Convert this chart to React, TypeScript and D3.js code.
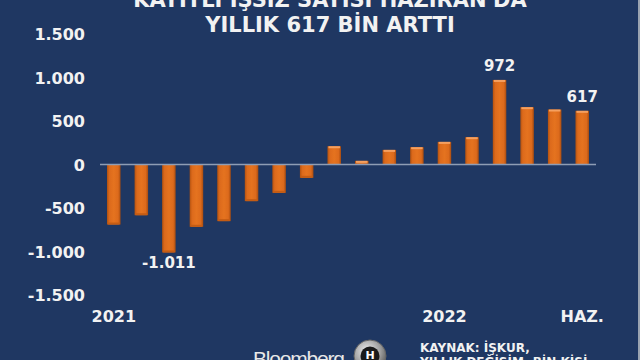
import React from "react";
import * as d3 from "d3";

const categories = [
  "Oca 21", "Şub 21", "Mar 21", "Nis 21", "May 21", "Haz 21",
  "Tem 21", "Ağu 21", "Eyl 21", "Eki 21", "Kas 21", "Ara 21",
  "Oca 22", "Şub 22", "Mar 22", "Nis 22", "May 22", "Haz 22",
];
const values = [-690, -583, -1011, -716, -651, -421, -326, -153, 210, 42, 168, 199, 260, 314, 972, 659, 632, 617];
const yTicks = [-1500, -1000, -500, 0, 500, 1000, 1500];
const xTickLabels: [number, string][] = [[0, "2021"], [12, "2022"], [17, "HAZ."]];
const valueLabels: [number, string][] = [[2, "-1.011"], [14, "972"], [17, "617"]];
const titleLines = ["KAYITLI İŞSİZ SAYISI HAZİRAN'DA", "YILLIK 617 BİN ARTTI"];
const sourceLines = ["KAYNAK: İŞKUR,", "YILLIK DEĞİŞİM, BİN KİŞİ"];

const W = 640, H = 360;
const font = "'DejaVu Sans', Verdana, sans-serif";
const fmt = (v: number) => d3.format(",")(v).replace(/,/g, ".").replace("−", "-");

export default function App() {
  const x = d3.scaleBand<number>().domain(d3.range(categories.length)).range([100, 596]).paddingInner(0.51).paddingOuter(0.255);
  const y = d3.scaleLinear().domain([-1500, 1500]).range([295, 34]);
  const bw = x.bandwidth();
  return (
    <div style={{ position: "absolute", left: 0, top: 0 }}>
      <svg width={W} height={H} style={{ display: "block" }}>
        <defs>
          <linearGradient id="barG" x1="0" x2="1" y1="0" y2="0">
            <stop offset="0" stopColor="#b4520f" />
            <stop offset="0.18" stopColor="#dc6a1c" />
            <stop offset="0.5" stopColor="#e5731f" />
            <stop offset="0.82" stopColor="#dc6a1c" />
            <stop offset="1" stopColor="#a84c10" />
          </linearGradient>
          <radialGradient id="logoG" cx="0.4" cy="0.35" r="0.7">
            <stop offset="0" stopColor="#f0f0f0" />
            <stop offset="0.6" stopColor="#a0a0a0" />
            <stop offset="1" stopColor="#555" />
          </radialGradient>
        </defs>
        <rect x={0} y={0} width={W} height={H} fill="#1f3762" />
        <rect x={638} y={0} width={2} height={H} fill="#9aa3b0" />
        {/* title */}
        {titleLines.map((t, i) => (
          <text key={t} x={330} y={7 + i * 25} textAnchor="middle" fill="#f2f2f2" fontFamily={font} fontWeight="bold" fontSize={21}>{t}</text>
        ))}
        {/* y axis labels */}
        {yTicks.map((t) => (
          <text key={t} x={85} y={y(t) + 6} textAnchor="end" fill="#f2f2f2" fontFamily={font} fontWeight="bold" fontSize={16}>{fmt(t)}</text>
        ))}
        {/* bars */}
        {values.map((v, i) => {
          const x0 = x(i)!;
          const top = y(Math.max(0, v));
          const h = Math.abs(y(v) - y(0));
          return (
            <g key={categories[i]}>
              <rect x={x0} y={top} width={bw} height={h} fill="url(#barG)" />
              {v > 0 ? (
                <rect x={x0 + 1} y={top} width={bw - 2} height={Math.min(2, h)} fill="#f5a060" />
              ) : (
                <rect x={x0 + 1} y={top + h - 2} width={bw - 2} height={2} fill="#c45c14" />
              )}
            </g>
          );
        })}
        {/* zero line */}
        <line x1={100} x2={596} y1={y(0)} y2={y(0)} stroke="#8e9db5" strokeWidth={1.5} />
        {/* value labels */}
        {valueLabels.map(([i, t]) => {
          const v = values[i];
          const cx = x(i)! + bw / 2;
          const ly = v < 0 ? y(v) + 16 : y(v) - 9;
          return (
            <text key={t} x={cx} y={ly} textAnchor="middle" fill="#f2f2f2" fontFamily={font} fontWeight="bold" fontSize={15}>{t}</text>
          );
        })}
        {/* x labels */}
        {xTickLabels.map(([i, t]) => (
          <text key={t} x={x(i)! + bw / 2} y={322} textAnchor="middle" fill="#f2f2f2" fontFamily={font} fontWeight="bold" fontSize={16}>{t}</text>
        ))}
        {/* bloomberg logo */}
        <text x={253} y={366} fill="#e8e8e8" fontFamily="'Liberation Sans', Arial, sans-serif" fontSize={21} textLength={92}>Bloomberg</text>
        <circle cx={370} cy={356} r={16} fill="url(#logoG)" stroke="#666" strokeWidth={1} />
        <circle cx={370} cy={356} r={9.5} fill="#1a1a1a" />
        <text x={370} y={359} textAnchor="middle" fill="#ffffff" fontFamily={font} fontWeight="bold" fontSize={11}>H</text>
        {/* source */}
        {sourceLines.map((t, i) => (
          <text key={t} x={420} y={352 + i * 13.5} fill="#f2f2f2" fontFamily={font} fontWeight="bold" fontSize={12}>{t}</text>
        ))}
      </svg>
    </div>
  );
}
